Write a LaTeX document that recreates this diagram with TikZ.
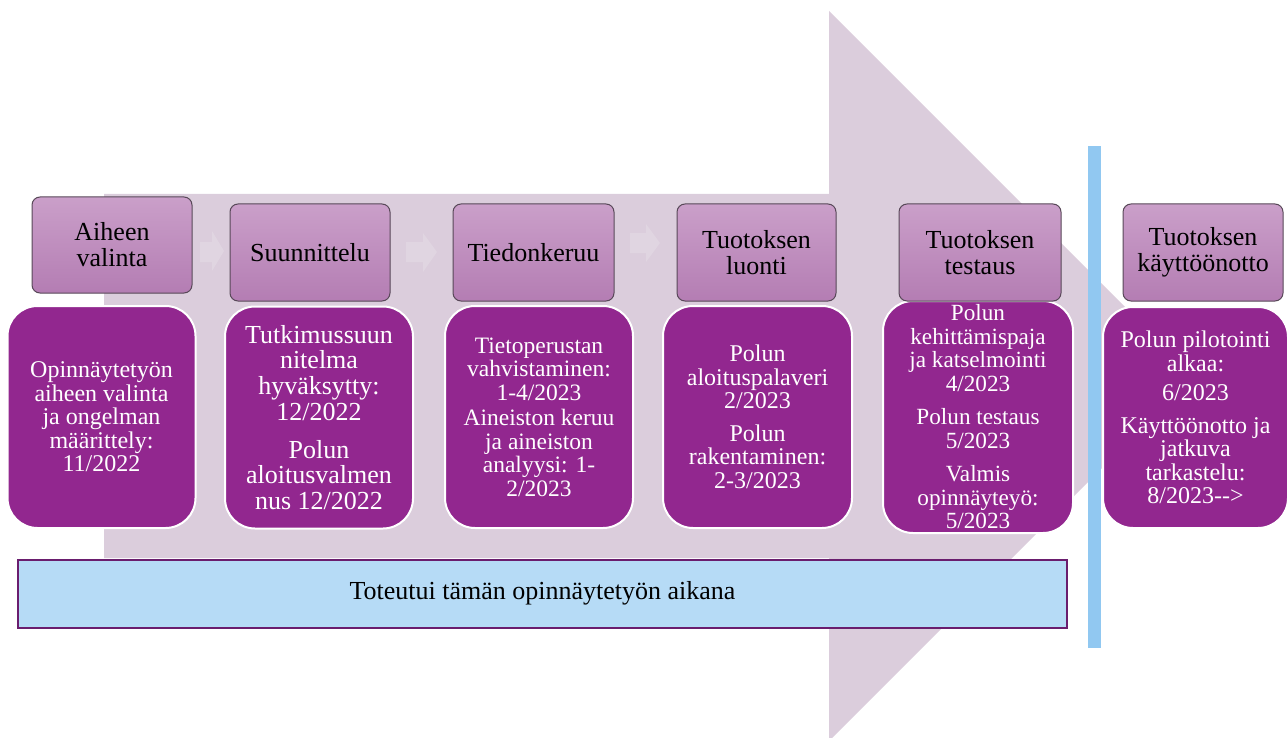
\documentclass[tikz,border=0pt]{standalone}
\usepackage{fontspec}
\setmainfont{Liberation Serif}
\definecolor{arrowbg}{RGB}{219,205,220}
\definecolor{faint}{RGB}{224,213,225}
\definecolor{toptop}{RGB}{202,159,201}
\definecolor{topbot}{RGB}{180,125,179}
\definecolor{topedge}{RGB}{88,72,88}
\definecolor{botfill}{RGB}{146,39,143}
\definecolor{bluefill}{RGB}{182,219,246}
\definecolor{blueedge}{RGB}{106,29,110}
\definecolor{barblue}{RGB}{145,200,241}
\tikzset{
  topbox/.style={rounded corners=8pt, draw=topedge, line width=1pt,
    top color=toptop, bottom color=topbot, minimum width=160pt,
    minimum height=97pt, inner sep=0pt, align=center, text=black,
    font=\fontsize{26}{26}\selectfont},
  botbox/.style={rounded corners=30pt, draw=white, line width=2pt,
    fill=botfill, align=center, inner sep=0pt, text=white,
    minimum width=188pt, minimum height=222pt,
    font=\fontsize{24}{23.5}\selectfont},
  faintarrow/.style={fill=faint},
}
\begin{document}
\begin{tikzpicture}[x=1pt,y=-1pt]
\useasboundingbox (0,0) rectangle (1287,738);
% big background arrow
\fill[arrowbg] (104,194) -- (829,194) -- (829,11) -- (1194,376) -- (829,741)
  -- (829,558) -- (104,558) -- cycle;
% faint connector arrows
\fill[faintarrow] (200,242) -- (212,242) -- (212,231) -- (224,251) -- (212,271) -- (212,262) -- (200,262) -- cycle;
\fill[faintarrow] (406,242) -- (423,242) -- (423,233) -- (437,252) -- (423,272) -- (423,262) -- (406,262) -- cycle;
\fill[faintarrow] (630,233) -- (646,233) -- (646,224) -- (660,243) -- (646,262) -- (646,253) -- (630,253) -- cycle;
% vertical bar
\fill[barblue] (1088,146) rectangle (1101,648);
% bottom boxes
\node[botbox] (b1) at (101.5,417) {Opinnäytetyön\\ aiheen valinta\\ ja ongelman\\ määrittely:\\ 11/2022};
\node[botbox, font=\fontsize{26}{25.7}\selectfont] (b2) at (319,417.5) {Tutkimussuun\\ nitelma\\ hyväksytty:\\ 12/2022\\[12pt] Polun\\ aloitusvalmen\\ nus 12/2022};
\node[botbox, font=\fontsize{23.5}{23.5}\selectfont] (b3) at (539,417) {Tietoperustan\\ vahvistaminen:\\ 1-4/2023\\[2pt] Aineiston keruu\\ ja aineiston\\ analyysi: 1-\\ 2/2023};
\node[botbox, minimum width=189pt] (b4) at (757.5,417) {Polun\\ aloituspalaveri\\ 2/2023\\[9pt] Polun\\ rakentaminen:\\ 2-3/2023};
\node[botbox, minimum width=190pt, minimum height=232pt, font=\fontsize{23.2}{23.5}\selectfont] (b5) at (978,417) {Polun\\ kehittämispaja\\ ja katselmointi\\ 4/2023\\[10pt] Polun testaus\\ 5/2023\\[10pt] Valmis\\ opinnäyteyö:\\ 5/2023};
\node[botbox, minimum width=185pt, minimum height=221pt] (b6) at (1195.5,417.5) {Polun pilotointi\\ alkaa:\\[6pt] 6/2023\\[9pt] Käyttöönotto ja\\ jatkuva\\ tarkastelu:\\ 8/2023-{}-{}>};
% top boxes
\node[topbox, minimum height=96pt] (t1) at (112,245) {Aiheen\\ valinta};
\node[topbox] (t2) at (310,252.5) {Suunnittelu};
\node[topbox, minimum width=161pt] (t3) at (533.5,252.5) {Tiedonkeruu};
\node[topbox, minimum width=159pt] (t4) at (756.5,252.5) {Tuotoksen\\ luonti};
\node[topbox, minimum width=162pt] (t5) at (980,252.5) {Tuotoksen\\ testaus};
\node[topbox] (t6) at (1203,252.5) {Tuotoksen\\ käyttöönotto};
% blue box
\node[draw=blueedge, line width=2pt, fill=bluefill, minimum width=1049pt,
  minimum height=68pt, inner sep=0pt, font=\fontsize{26}{26}\selectfont] (toteutui)
  at (542.5,594) {\raisebox{7pt}{Toteutui tämän opinnäytetyön aikana}};
\end{tikzpicture}
\end{document}
